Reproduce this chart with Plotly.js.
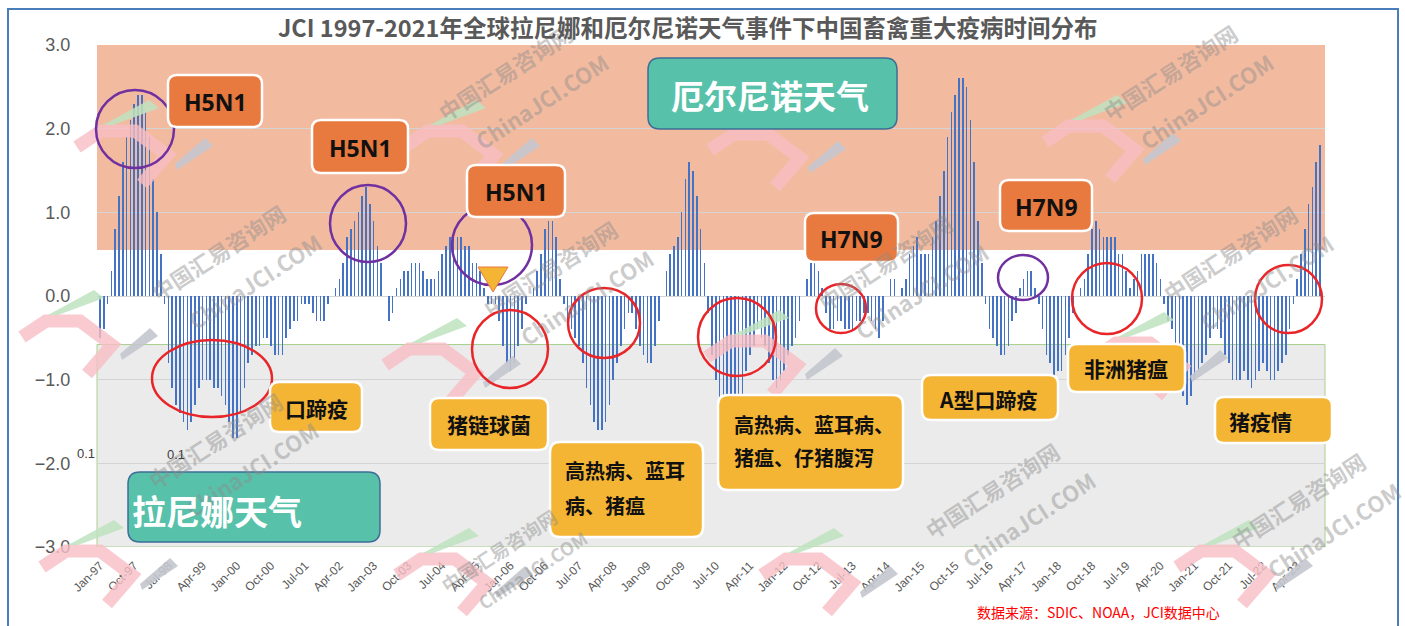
<!DOCTYPE html>
<html>
<head>
<meta charset="utf-8">
<script src="https://cdn.plot.ly/plotly-3.0.1.min.js"></script>
<style>
html,body{margin:0;padding:0;background:#fff;}
#chart{width:1405px;height:626px;}
</style>
</head>
<body>
<div id="chart"></div>
<script>
// ---- DATA (ONI index, monthly) ----
const months = ["Jan","Feb","Mar","Apr","May","Jun","Jul","Aug","Sep","Oct","Nov","Dec"];
const years = [1997,1998,1999,2000,2001,2002,2003,2004,2005,2006,2007,2008,2009,2010,2011,2012,2013,2014,2015,2016,2017,2018,2019,2020,2021,2022,2023];
const v1997 = [-0.5,-0.4,-0.1,0.3,0.8,1.2,1.6,1.9,2.1,2.3,2.4,2.4];
const v1998 = [2.2,1.9,1.4,1.0,0.5,-0.1,-0.8,-1.1,-1.3,-1.4,-1.5,-1.6];
const v1999 = [-1.5,-1.3,-1.1,-1.0,-1.0,-1.0,-1.1,-1.1,-1.2,-1.3,-1.5,-1.7];
const v2000 = [-1.7,-1.4,-1.1,-0.8,-0.7,-0.6,-0.6,-0.5,-0.5,-0.6,-0.7,-0.7];
const v2001 = [-0.7,-0.5,-0.4,-0.3,-0.3,-0.1,-0.1,-0.1,-0.2,-0.3,-0.3,-0.3];
const v2002 = [-0.1,0.0,0.1,0.2,0.4,0.7,0.8,0.9,1.0,1.2,1.3,1.1];
const v2003 = [0.9,0.6,0.4,0.0,-0.3,-0.2,0.1,0.2,0.3,0.3,0.4,0.4];
const v2004 = [0.4,0.3,0.2,0.2,0.2,0.3,0.5,0.6,0.7,0.7,0.7,0.7];
const v2005 = [0.6,0.6,0.4,0.4,0.3,0.1,-0.1,-0.1,-0.1,-0.3,-0.6,-0.8];
const v2006 = [-0.9,-0.8,-0.6,-0.4,-0.1,0.0,0.1,0.3,0.5,0.8,0.9,0.9];
const v2007 = [0.7,0.2,-0.1,-0.3,-0.4,-0.5,-0.6,-0.8,-1.1,-1.3,-1.5,-1.6];
const v2008 = [-1.6,-1.5,-1.3,-1.0,-0.8,-0.6,-0.4,-0.2,-0.2,-0.4,-0.6,-0.7];
const v2009 = [-0.8,-0.8,-0.6,-0.3,0.0,0.3,0.5,0.6,0.7,1.0,1.4,1.6];
const v2010 = [1.5,1.2,0.8,0.4,-0.2,-0.7,-1.0,-1.3,-1.6,-1.6,-1.6,-1.6];
const v2011 = [-1.4,-1.2,-0.9,-0.7,-0.6,-0.4,-0.5,-0.6,-0.8,-1.0,-1.1,-1.0];
const v2012 = [-0.9,-0.7,-0.6,-0.5,-0.3,0.0,0.2,0.4,0.4,0.3,0.1,-0.2];
const v2013 = [-0.4,-0.4,-0.3,-0.3,-0.4,-0.4,-0.4,-0.3,-0.3,-0.2,-0.2,-0.3];
const v2014 = [-0.4,-0.5,-0.3,0.0,0.2,0.2,0.0,0.1,0.2,0.5,0.6,0.7];
const v2015 = [0.5,0.5,0.5,0.7,0.9,1.2,1.5,1.9,2.2,2.4,2.6,2.6];
const v2016 = [2.5,2.1,1.6,0.9,0.4,-0.1,-0.4,-0.5,-0.6,-0.7,-0.7,-0.6];
const v2017 = [-0.3,-0.2,0.1,0.2,0.3,0.3,0.1,-0.1,-0.4,-0.7,-0.8,-1.0];
const v2018 = [-0.9,-0.9,-0.7,-0.5,-0.2,0.0,0.1,0.2,0.5,0.8,0.9,0.8];
const v2019 = [0.7,0.7,0.7,0.7,0.5,0.5,0.3,0.1,0.2,0.3,0.5,0.5];
const v2020 = [0.5,0.5,0.4,0.2,-0.1,-0.3,-0.4,-0.6,-0.9,-1.2,-1.3,-1.2];
const v2021 = [-1.0,-0.9,-0.8,-0.7,-0.5,-0.4,-0.4,-0.5,-0.7,-0.8,-1.0,-1.0];
const v2022 = [-1.0,-0.9,-1.0,-1.1,-1.0,-0.9,-0.8,-0.9,-1.0,-1.0,-0.9,-0.8];
const v2023 = [-0.7,-0.4,-0.1,0.2,0.5,0.8,1.1,1.3,1.6,1.8];
const yearly = [v1997,v1998,v1999,v2000,v2001,v2002,v2003,v2004,v2005,v2006,v2007,v2008,v2009,v2010,v2011,v2012,v2013,v2014,v2015,v2016,v2017,v2018,v2019,v2020,v2021,v2022,v2023];
const tickEvery = 9;
const yTicks = [-3,-2,-1,0,1,2,3];

const titleText = "JCI 1997-2021年全球拉尼娜和厄尔尼诺天气事件下中国畜禽重大疫病时间分布";
const sourceText = "数据来源：SDIC、NOAA，JCI数据中心";
const elNinoLabel = "厄尔尼诺天气";
const laNinaLabel = "拉尼娜天气";
const elNinoThreshold = 0.55;
const laNinaThreshold = -0.58;

// ---- build category series ----
const cats = [], vals = [];
years.forEach((yr, i) => {
  yearly[i].forEach((v, m) => {
    cats.push(months[m] + "-" + String(yr).slice(2));
    vals.push(v);
  });
});
const tickvals = cats.filter((c, i) => i % tickEvery === 0);

// ---- pixel -> paper helpers (plot area 97..1325 x 45..547) ----
const L = 97, R = 1325, T = 45, B = 547;
const fx = p => (p - L) / (R - L);
const fy = p => (B - p) / (B - T);

function rrect(x0, y0, x1, y1, r) {
  const rx = r / (R - L), ry = r / (B - T);
  const a = fx(x0), b = fx(x1), top = fy(y0), bot = fy(y1);
  return `M${a+rx},${top} L${b-rx},${top} Q${b},${top} ${b},${top-ry} L${b},${bot+ry} Q${b},${bot} ${b-rx},${bot} L${a+rx},${bot} Q${a},${bot} ${a},${bot+ry} L${a},${top-ry} Q${a},${top} ${a+rx},${top} Z`;
}
function poly(pts) {
  return "M" + pts.map(p => fx(p[0]) + "," + fy(p[1])).join(" L") + " Z";
}
function polyline(pts) {
  return "M" + pts.map(p => fx(p[0]) + "," + fy(p[1])).join(" L");
}

const shapes = [];
const annotations = [];

// background bands
shapes.push({type:"rect", xref:"paper", yref:"y", x0:0, x1:1, y0:elNinoThreshold, y1:3,
  fillcolor:"#F2BBA0", line:{width:0}, layer:"below"});
shapes.push({type:"rect", xref:"paper", yref:"y", x0:0, x1:1, y0:-3, y1:laNinaThreshold,
  fillcolor:"#EBEBEB", line:{width:1, color:"#A9D18E"}, layer:"below"});

// watermark logos
function logo(ox, oy) {
  shapes.push({type:"path", xref:"paper", yref:"paper", layer:"above",
    path: polyline([[ox+2,oy+47],[ox+26,oy+31],[ox+60,oy+31],[ox+92,oy+55],[ox+67,oy+84]]),
    line:{color:"rgba(247,190,196,0.8)", width:13}});
  shapes.push({type:"path", xref:"paper", yref:"paper", layer:"above",
    path: poly([[ox+28,oy+25],[ox+74,oy+0],[ox+84,oy+8],[ox+38,oy+25]]),
    fillcolor:"rgba(190,226,190,0.85)", line:{width:0}});
  shapes.push({type:"path", xref:"paper", yref:"paper", layer:"above",
    path: poly([[ox+100,oy+64],[ox+130,oy+38],[ox+138,oy+46],[ox+102,oy+70]]),
    fillcolor:"rgba(196,198,206,0.9)", line:{width:0}});
}
[[75,100],[402,100],[708,103],[1043,95],[20,290],[383,318],[705,310],[1090,312],[40,520],[395,528],[760,528],[1175,520]].forEach(p => logo(p[0], p[1]));

// circles
const purple = "#7030A0", red = "#E8262A";
function circ(x0, y0, x1, y1, c) {
  shapes.push({type:"circle", xref:"paper", yref:"paper", layer:"above",
    x0:fx(x0), x1:fx(x1), y0:fy(y1), y1:fy(y0), line:{color:c, width:2.5}});
}
circ(96,90,174,168,purple);
circ(330,185,406,262,purple);
circ(452,205,532,285,purple);
circ(998,255,1048,300,purple);
circ(152,340,272,417,red);
circ(472,310,548,388,red);
circ(568,288,640,358,red);
circ(698,298,776,376,red);
circ(816,284,866,333,red);
circ(1072,263,1142,334,red);
circ(1255,265,1322,333,red);

// triangle marker
shapes.push({type:"path", xref:"paper", yref:"paper", layer:"above",
  path: poly([[478,267],[508,267],[493,292]]), fillcolor:"#F4B434", line:{color:"#E8793F", width:1}});

// boxes
function box(x0, y0, x1, y1, fill, border, bw, r) {
  shapes.push({type:"path", xref:"paper", yref:"paper", layer:"above",
    path: rrect(x0, y0, x1, y1, r), fillcolor:fill, line:{color:border, width:bw}});
}
function txt(x, y, t, size, color, align, bold, fam) {
  annotations.push({xref:"paper", yref:"paper", x:fx(x), y:fy(y), text: bold ? "<b>"+t+"</b>" : t,
    showarrow:false, xanchor: align || "center", yanchor:"middle", align: align || "center",
    font:{size:size, color:color, family: fam || "Noto Sans CJK SC, Noto Sans, sans-serif"}});
}

// watermark text (drawn first so that the labels sit on top)
function wm(x, y, t, size) {
  annotations.push({xref:"paper", yref:"paper", x:fx(x), y:fy(y), text:"<b>"+t+"</b>", showarrow:false,
    textangle:-33, xanchor:"center", yanchor:"middle",
    font:{size:size, color:"rgba(140,140,140,0.45)", family:"Noto Sans CJK SC, sans-serif"}});
}
[[218,252],[550,268],[885,262],[1230,253],[505,72],[1170,72],[215,440],[992,490],[1298,500]].forEach(p => {
  wm(p[0], p[1], "中国汇易咨询网", 22);
  wm(p[0]+36, p[1]+29, "ChinaJCI.COM", 22);
});
wm(498,550,"中国汇易咨询网",19);
wm(532,570,"ChinaJCI.COM",18);

const teal = "#57C1AA", orange = "#E8793F", yellow = "#F4B434";
box(648,58,897,129,teal,"#3E6E96",1.5,12);
txt(770,95,elNinoLabel,33,"#FFFFFF","center",true);
box(128,472,380,542,teal,"#3E6E96",1.5,12);
txt(130,510,laNinaLabel,34,"#FFFFFF","left",true);

[[168,75,262,127,"H5N1"],[312,120,408,173,"H5N1"],[467,165,565,217,"H5N1"],[805,213,898,262,"H7N9"],[1000,180,1092,231,"H7N9"]].forEach(b => {
  box(b[0],b[1],b[2],b[3],orange,"#FFFFFF",2.5,9);
  txt((b[0]+b[2])/2,(b[1]+b[3])/2+1,b[4],23,"#111111","center",true,"Open Sans, Noto Sans, sans-serif");
});
box(270,382,362,432,yellow,"#FFFFFF",2.5,9);
txt(316,408,"口蹄疫",21,"#111111","center",true);
box(430,398,548,450,yellow,"#FFFFFF",2.5,9);
txt(489,424,"猪链球菌",21,"#111111","center",true);
box(550,442,703,537,yellow,"#FFFFFF",2.5,10);
txt(563,470,"高热病、蓝耳",20,"#111111","left",true);
txt(563,505,"病、猪瘟",20,"#111111","left",true);
box(718,395,903,490,yellow,"#FFFFFF",2.5,10);
txt(732,424,"高热病、蓝耳病、",20,"#111111","left",true);
txt(732,458,"猪瘟、仔猪腹泻",20,"#111111","left",true);
box(922,375,1058,420,yellow,"#FFFFFF",2.5,9);
txt(988,399,"A型口蹄疫",21,"#111111","center",true);
box(1068,344,1185,392,yellow,"#FFFFFF",2.5,9);
txt(1126,368,"非洲猪瘟",21,"#111111","center",true);
box(1215,397,1332,443,yellow,"#FFFFFF",2.5,9);
txt(1260,421,"猪疫情",21,"#111111","center",true);

// stray labels
txt(86,453,"0.1",13,"#404040","center",false,"Liberation Sans, sans-serif");
txt(176,455,"0.1",13,"#404040","center",false,"Liberation Sans, sans-serif");

// title and source
txt(687,27,titleText,23.5,"#595959","center",true);
txt(1098,612,sourceText,14,"#FF0000","center",false);

// frame
shapes.push({type:"rect", xref:"paper", yref:"paper", x0:fx(8), x1:fx(1398), y0:fy(660), y1:fy(9),
  line:{color:"#4A7EBB", width:2}, fillcolor:"rgba(0,0,0,0)", layer:"above"});

const trace = {
  type:"bar", x:cats, y:vals, width:0.42,
  marker:{color:"#4472C4", line:{width:0}},
  hoverinfo:"x+y"
};

const layout = {
  width:1405, height:626,
  margin:{l:L, r:1405-R, t:T, b:626-B, pad:0},
  paper_bgcolor:"#FFFFFF", plot_bgcolor:"rgba(0,0,0,0)",
  showlegend:false, bargap:0,
  xaxis:{type:"category", range:[-0.8, 322.3], tickmode:"array", tickvals:tickvals, ticktext:tickvals,
    tickangle:-45, tickfont:{size:12, color:"#595959", family:"Liberation Sans, sans-serif"},
    ticks:"outside", ticklen:6, tickcolor:"rgba(0,0,0,0)", showgrid:false, zeroline:false, showline:false},
  yaxis:{range:[-3,3], tickvals:yTicks, tickformat:".1f", showgrid:true, gridcolor:"#D4D4D4", gridwidth:1,
    zeroline:true, zerolinecolor:"#D4D4D4", zerolinewidth:1,
    tickfont:{size:18, color:"#595959", family:"Liberation Sans, sans-serif"},
    ticks:"outside", ticklen:22, tickcolor:"rgba(0,0,0,0)", showline:false},
  shapes:shapes, annotations:annotations
};

Plotly.newPlot("chart", [trace], layout, {staticPlot:true, displayModeBar:false});
</script>
</body>
</html>
